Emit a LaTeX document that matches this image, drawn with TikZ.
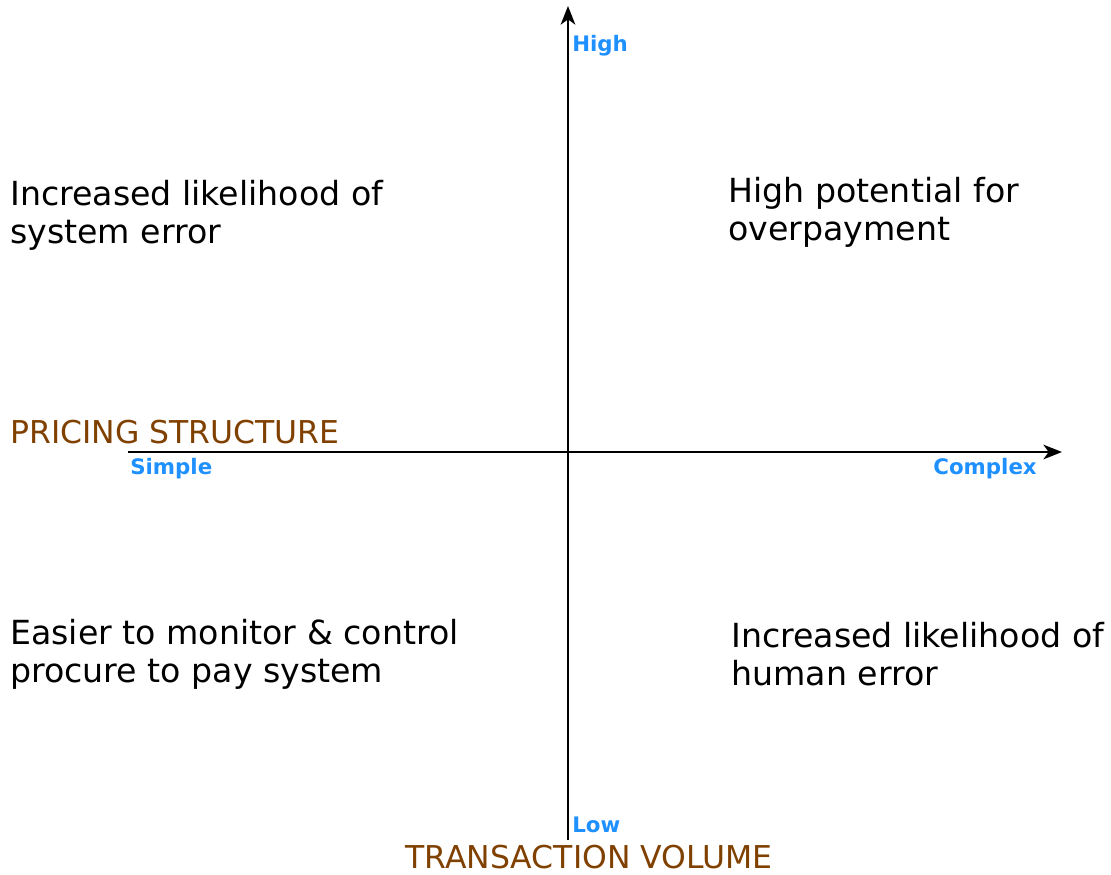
\documentclass[tikz,border=0pt]{standalone}
\usepackage{fontspec}
\setmainfont{DejaVu Sans}
\usetikzlibrary{positioning, arrows.meta}

\definecolor{axisbrown}{RGB}{128,64,0}
\definecolor{tickblue}{RGB}{30,144,255}

\begin{document}
\begin{tikzpicture}[x=0.75pt, y=-0.75pt,
    quad/.style={anchor=west, align=left, inner sep=0pt, font=\fontsize{24.9}{28.5}\selectfont},
    axname/.style={inner sep=0pt, text=axisbrown, font=\fontsize{23.6}{27}\selectfont},
    tick/.style={inner sep=0pt, text=tickblue, font=\fontsize{16}{19}\selectfont\bfseries},
    axis/.style={line width=1.5pt, -{Stealth[length=14pt, width=11pt, inset=4pt]}}]
  \useasboundingbox (0,0) rectangle (1111,875);

  % the two axes
  \coordinate (vlow) at (568,840);
  \coordinate (vhigh) at (568,6);
  \coordinate (hleft) at (128,452);
  \coordinate (hright) at (1062,452);
  \draw[axis] (vlow) -- (vhigh);
  \draw[axis] (hleft) -- (hright);

  % axis names and end labels
  \node[axname, anchor=west] (pricing) at (10,432) {PRICING STRUCTURE};
  \node[axname] (volume) at (589,857) {TRANSACTION VOLUME};
  \node[tick, anchor=west] (simple) at (130,469) {Simple};
  \node[tick, anchor=east] (complex) at (1037,469) {Complex};
  \node[tick, anchor=west] (high) at (572,46) {High};
  \node[tick, anchor=west] (low) at (572,825) {Low};

  % the four quadrants
  \node[quad] (sysErr) at (10,215) {Increased likelihood of\\system error};
  \node[quad] (overpay) at (728,212) {High potential for\\overpayment};
  \node[quad] (easier) at (10,654) {Easier to monitor \& control\\procure to pay system};
  \node[quad] (humanErr) at (731,654) {Increased likelihood of\\human error};
\end{tikzpicture}
\end{document}
